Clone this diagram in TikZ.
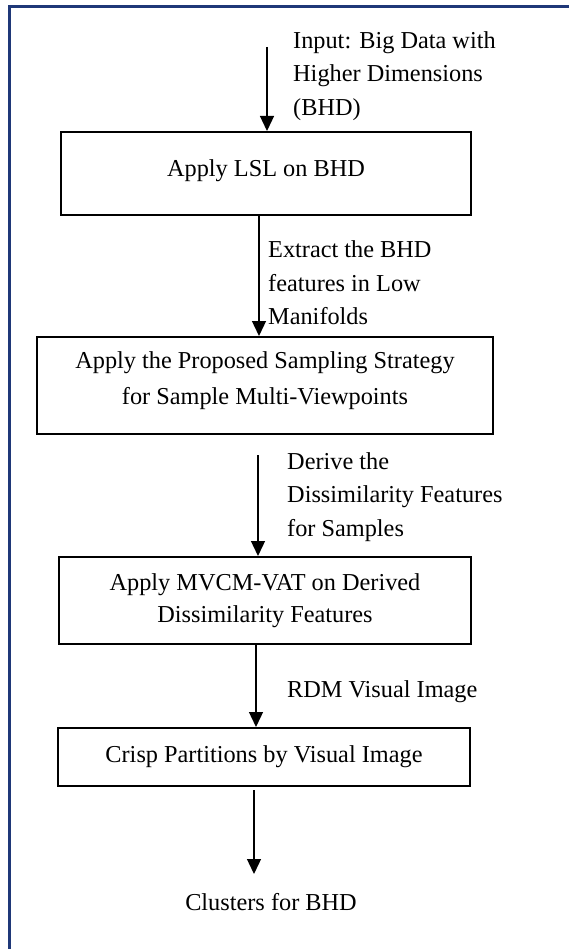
\documentclass[tikz,border=0pt]{standalone}
\usepackage{fontspec}
\setmainfont{Liberation Serif}
\usetikzlibrary{arrows.meta}
\definecolor{framenavy}{RGB}{31,56,120}
\tikzset{
  stepbox/.style={draw=black, line width=2pt, rectangle, align=center, inner sep=0pt,
     font=\fontsize{24.3}{34}\selectfont},
  arr/.style={line width=1.3pt, -{Triangle[width=14pt,length=15pt]}},
  lbl/.style={anchor=west, align=left, inner sep=0pt, font=\fontsize{24.3}{33.5}\selectfont},
}
\begin{document}
\begin{tikzpicture}[x=1pt,y=-1pt]
\useasboundingbox (0,0) rectangle (569,949);
% outer frame (left and top edges visible)
\draw[framenavy, line width=3pt] (9.5,960) -- (9.5,6.5) -- (580,6.5);

% boxes
\node[stepbox, minimum width=410pt, minimum height=83pt] (b1) at (266,173.5) {Apply LSL on BHD\\[-23pt]\mbox{}};
\node[stepbox, minimum width=456pt, minimum height=97pt] (b2) at (265,385.5) {Apply the Proposed Sampling Strategy\\[2pt]for Sample Multi-Viewpoints\\[-19pt]\mbox{}};
\node[stepbox, minimum width=412pt, minimum height=87pt] (b3) at (265,600.5) {Apply MVCM-VAT on Derived\\[-2pt]Dissimilarity Features};
\node[stepbox, minimum width=412pt, minimum height=58pt] (b4) at (264,757) {Crisp Partitions by Visual Image};
\node[font=\fontsize{24.3}{33.5}\selectfont, inner sep=0pt] (out) at (271,902) {Clusters for BHD};

% coordinates for arrows
\coordinate (in) at (267,47);
\coordinate (s2) at (259,215);
\coordinate (s3) at (258,455);
\coordinate (s4) at (256,644);
\coordinate (s5) at (254,790);
\coordinate (e5) at (254,874);

% arrows
\draw[arr] (in) -- (in |- b1.north);
\draw[arr] (s2 |- b1.south) -- (s2 |- b2.north);
\draw[arr] (s3) -- (s3 |- b3.north);
\draw[arr] (s4 |- b3.south) -- (s4 |- b4.north);
\draw[arr] (s5) -- (e5);

% labels
\node[lbl] (l1) at (293,76) {Input: Big Data with\\Higher Dimensions\\(BHD)};
\node[lbl] (l2) at (268,283) {Extract the BHD\\features in Low\\Manifolds};
\node[lbl] (l3) at (287,497) {Derive the\\Dissimilarity Features\\for Samples};
\node[lbl] (l4) at (287,692) {RDM Visual Image};
\end{tikzpicture}
\end{document}
